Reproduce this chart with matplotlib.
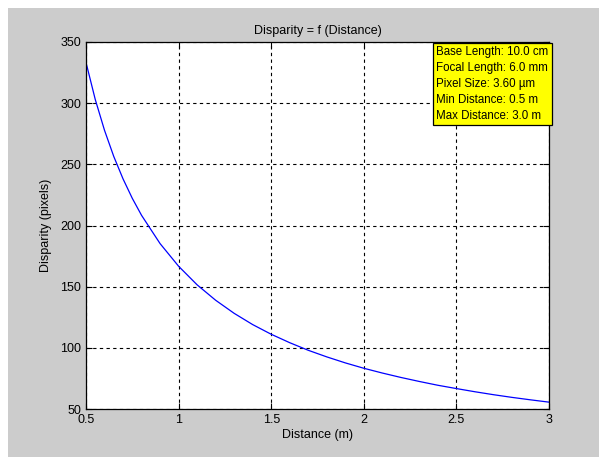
import matplotlib.pyplot as plt
from matplotlib.patches import Rectangle

# distance (m) and disparity (pixels)
distance = [0.5, 0.55, 0.6, 0.65, 0.7, 0.75, 0.8, 0.9, 1.0, 1.1, 1.2, 1.3, 1.4, 1.5,
            1.6, 1.7, 1.8, 1.9, 2.0, 2.1, 2.2, 2.3, 2.4, 2.5, 2.6, 2.7, 2.8, 2.9, 3.0]
disparity = [333.3, 303.0, 277.8, 256.4, 238.1, 222.2, 208.3, 185.2, 166.7, 151.5, 138.9,
             128.2, 119.0, 111.1, 104.2, 98.0, 92.6, 87.7, 83.3, 79.4, 75.8, 72.5, 69.4,
             66.7, 64.1, 61.7, 59.5, 57.5, 55.6]

xticks = [0.5, 1, 1.5, 2, 2.5, 3]
xticklabels = ["0.5", "1", "1.5", "2", "2.5", "3"]
yticks = [50, 100, 150, 200, 250, 300, 350]

info = ["Base Length: 10.0 cm", "Focal Length: 6.0 mm", "Pixel Size: 3.60 µm",
        "Min Distance: 0.5 m", "Max Distance: 3.0 m"]

plt.rcParams['font.family'] = ['Liberation Sans', 'DejaVu Sans']

fig = plt.figure(figsize=(5.99, 4.57), dpi=100, facecolor='white')
# grey MATLAB-style figure background (white strip on top/left)
fig.patches.append(Rectangle((8 / 599, 0), 1, 1 - 8 / 457, transform=fig.transFigure,
                             facecolor='#cccccc', edgecolor='none', zorder=-10))

ax = fig.add_axes([86 / 599, 1 - 409 / 457, (549 - 86) / 599, (409 - 42) / 457])
ax.plot(distance, disparity, color='blue', lw=0.9)

ax.set_xlim(0.5, 3)
ax.set_ylim(50, 350)
ax.set_xticks(xticks)
ax.set_xticklabels(xticklabels)
ax.set_yticks(yticks)
ax.grid(True, color='black', linestyle=(0, (3, 3)), lw=0.8)
ax.tick_params(direction='in', top=True, right=True, labelsize=9, length=4, width=0.8)
for s in ax.spines.values():
    s.set_linewidth(0.9)

ax.set_title("Disparity = f (Distance)", fontsize=9, pad=6)
ax.set_xlabel("Distance (m)", fontsize=9, labelpad=2)
ax.set_ylabel("Disparity (pixels)", fontsize=9, labelpad=6)

ax.text(0.757, 0.988, "\n".join(info), transform=ax.transAxes, ha='left', va='top',
        fontsize=8.3, linespacing=1.42, zorder=10,
        bbox=dict(boxstyle='square,pad=0.3', facecolor='yellow', edgecolor='black', lw=0.9))

fig.savefig("out.png", dpi=100)
